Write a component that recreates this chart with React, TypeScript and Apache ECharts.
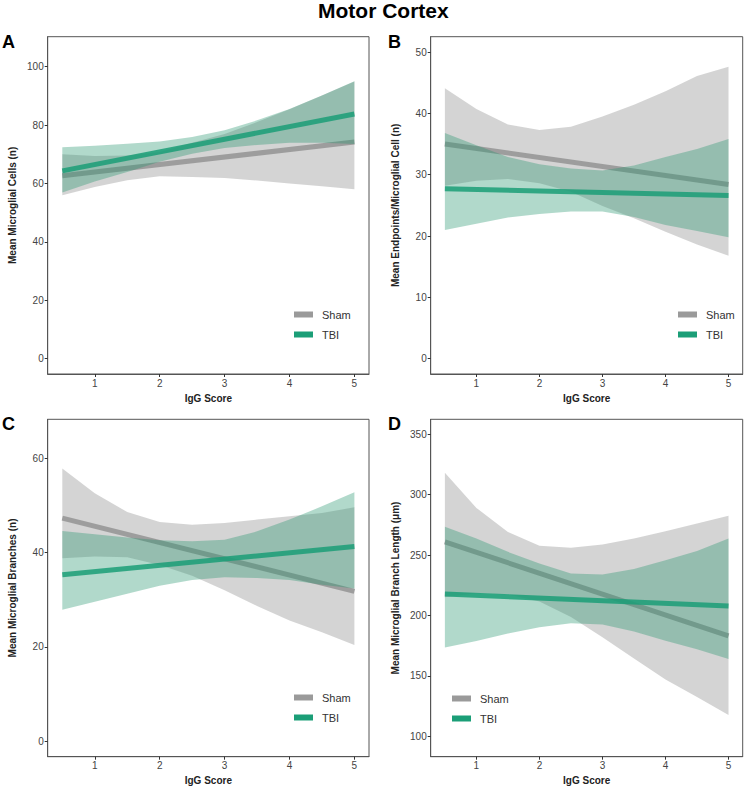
import React, { useEffect, useRef } from "react";
import * as echarts from "echarts";

// ---------- data ----------
const IGG_SCORE = [0.5, 1, 1.5, 2, 2.5, 3, 3.5, 4, 4.5, 5];
const LINE_X = [0.5, 5];
const X_TICKS = [1, 2, 3, 4, 5];
const GROUPS = ["Sham", "TBI"];
const X_TITLE = "IgG Score";
const MAIN_TITLE = "Motor Cortex";
const PANEL_LETTERS = ["A", "B", "C", "D"];
const Y_TITLES = [
  "Mean Microglial Cells (n)",
  "Mean Endpoints/Microglial Cell (n)",
  "Mean Microglial Branches (n)",
  "Mean Microglial Branch Length (μm)",
];

// Panel A: microglial cells
const A_Y_TICKS = [0, 20, 40, 60, 80, 100];
const A_SHAM_LINE = [62.6, 74.2];
const A_SHAM_LO = [56.0, 58.8, 61.1, 62.5, 62.2, 61.9, 61.0, 60.0, 59.0, 58.0];
const A_SHAM_HI = [70.0, 69.4, 69.6, 70.8, 73.9, 76.9, 81.0, 85.4, 90.1, 94.9];
const A_TBI_LINE = [64.3, 83.8];
const A_TBI_LO = [56.9, 60.7, 63.9, 67.4, 70.2, 72.1, 73.2, 73.9, 73.9, 73.5];
const A_TBI_HI = [72.4, 72.9, 73.6, 74.4, 75.9, 78.2, 81.6, 85.5, 90.1, 95.0];

// Panel B: endpoints / cell
const B_Y_TICKS = [0, 10, 20, 30, 40, 50];
const B_SHAM_LINE = [35.0, 28.4];
const B_SHAM_LO = [28.2, 29.0, 29.3, 28.6, 27.2, 24.9, 22.9, 20.7, 18.6, 16.8];
const B_SHAM_HI = [44.1, 40.7, 38.2, 37.3, 37.8, 39.5, 41.4, 43.6, 46.1, 47.6];
const B_TBI_LINE = [27.7, 26.6];
const B_TBI_LO = [21.0, 22.0, 23.0, 23.6, 24.0, 24.0, 23.1, 21.8, 20.8, 19.8];
const B_TBI_HI = [36.8, 34.8, 32.9, 31.7, 31.0, 30.7, 31.5, 32.9, 34.2, 35.8];

// Panel C: branches
const C_Y_TICKS = [0, 20, 40, 60];
const C_SHAM_LINE = [47.3, 31.8];
const C_SHAM_LO = [38.8, 39.2, 39.0, 37.4, 35.1, 32.0, 28.7, 25.6, 23.1, 20.4];
const C_SHAM_HI = [57.8, 52.6, 48.6, 46.5, 45.9, 46.3, 47.0, 47.7, 48.4, 49.6];
const C_TBI_LINE = [35.3, 41.3];
const C_TBI_LO = [27.9, 29.6, 31.3, 33.0, 34.2, 34.8, 34.6, 34.2, 33.2, 32.4];
const C_TBI_HI = [44.6, 43.9, 43.2, 42.6, 42.4, 42.7, 44.5, 47.0, 49.8, 52.8];

// Panel D: branch length
const D_Y_TICKS = [100, 150, 200, 250, 300, 350];
const D_SHAM_LINE = [261.0, 183.0];
const D_SHAM_LO = [215.0, 218.5, 217.3, 211.5, 198.8, 182.0, 164.3, 147.0, 132.5, 117.5];
const D_SHAM_HI = [318.3, 289.1, 269.2, 257.7, 256.0, 258.8, 263.7, 269.8, 276.1, 282.5];
const D_TBI_LINE = [217.7, 207.8];
const D_TBI_LO = [173.5, 178.8, 185.0, 190.2, 193.6, 192.5, 186.7, 179.1, 172.1, 163.9];
const D_TBI_HI = [273.4, 263.7, 252.7, 243.1, 234.8, 234.0, 238.4, 245.8, 253.3, 263.7];

// ---------- layout / style ----------
const FONT = "'Liberation Sans', Arial, Helvetica, sans-serif";
const SHAM_LINE_COLOR = "#9a9a9a";
const TBI_LINE_COLOR = "#1b9e77";
const SHAM_RIBBON = "rgba(160,160,160,0.45)";
const TBI_RIBBON = "rgba(40,150,110,0.36)";

const PANELS = [
  {
    grid: { left: 47.7, top: 36.7, width: 321.3, height: 337.3 },
    yMin: -5.25, yMax: 110.25, yTicks: A_Y_TICKS,
    sham: [A_SHAM_LINE, A_SHAM_LO, A_SHAM_HI], tbi: [A_TBI_LINE, A_TBI_LO, A_TBI_HI],
    legend: { left: 294, top: 309 }, letter: { x: 2, y: 33 },
  },
  {
    grid: { left: 430.7, top: 36.7, width: 312, height: 337.3 },
    yMin: -2.5, yMax: 52.5, yTicks: B_Y_TICKS,
    sham: [B_SHAM_LINE, B_SHAM_LO, B_SHAM_HI], tbi: [B_TBI_LINE, B_TBI_LO, B_TBI_HI],
    legend: { left: 678, top: 309 }, letter: { x: 388, y: 33 },
  },
  {
    grid: { left: 47.7, top: 419.3, width: 321.3, height: 337.4 },
    yMin: -3.25, yMax: 68.25, yTicks: C_Y_TICKS,
    sham: [C_SHAM_LINE, C_SHAM_LO, C_SHAM_HI], tbi: [C_TBI_LINE, C_TBI_LO, C_TBI_HI],
    legend: { left: 294, top: 692 }, letter: { x: 2, y: 415 },
  },
  {
    grid: { left: 430.7, top: 419.3, width: 312, height: 337.4 },
    yMin: 83, yMax: 362.5, yTicks: D_Y_TICKS,
    sham: [D_SHAM_LINE, D_SHAM_LO, D_SHAM_HI], tbi: [D_TBI_LINE, D_TBI_LO, D_TBI_HI],
    legend: { left: 452, top: 693 }, letter: { x: 388, y: 415 },
  },
];

function ribbon(idx: number, lo: number[], hi: number[], fill: string, z: number) {
  return {
    type: "custom",
    xAxisIndex: idx,
    yAxisIndex: idx,
    silent: true,
    z,
    data: IGG_SCORE.map((x, k) => [x, lo[k], hi[k]]),
    encode: { x: 0, y: [1, 2] },
    renderItem: (params: any, api: any) => {
      if (params.dataIndex !== 0) return null;
      const pts: number[][] = [];
      for (let k = 0; k < IGG_SCORE.length; k++) pts.push(api.coord([IGG_SCORE[k], hi[k]]));
      for (let k = IGG_SCORE.length - 1; k >= 0; k--) pts.push(api.coord([IGG_SCORE[k], lo[k]]));
      return { type: "polygon", shape: { points: pts }, style: { fill } };
    },
  };
}

function fitLine(idx: number, name: string, vals: number[], color: string, opacity: number, z: number) {
  return {
    type: "line",
    name,
    xAxisIndex: idx,
    yAxisIndex: idx,
    silent: true,
    z,
    symbol: "none",
    showSymbol: false,
    data: LINE_X.map((x, k) => [x, vals[k]]),
    lineStyle: { width: 5, color, opacity, cap: "butt" },
    itemStyle: { color },
  };
}

export default function App() {
  const ref = useRef<HTMLDivElement>(null);
  useEffect(() => {
    document.body.style.margin = "0";
    if (!ref.current) return;
    const chart = echarts.init(ref.current, null, { renderer: "svg" });

    const grids: any[] = [];
    const xAxes: any[] = [];
    const yAxes: any[] = [];
    const legends: any[] = [];
    const series: any[] = [];
    const graphics: any[] = [];

    PANELS.forEach((p, i) => {
      grids.push({ ...p.grid, show: true, borderColor: "#555", borderWidth: 1, backgroundColor: "transparent" });
      xAxes.push({
        type: "value",
        gridIndex: i,
        position: "bottom",
        min: 0.275,
        max: 5.225,
        name: X_TITLE,
        nameLocation: "middle",
        nameGap: 19,
        nameTextStyle: { fontFamily: FONT, fontSize: 10, fontWeight: "bold", color: "#222" },
        axisLine: { show: true, onZero: false, lineStyle: { color: "#555", width: 1 } },
        splitLine: { show: false },
        axisTick: { show: true, length: 3, lineStyle: { color: "#333" }, customValues: X_TICKS },
        axisLabel: { fontFamily: FONT, fontSize: 10, color: "#444", margin: 4, customValues: X_TICKS },
      });
      yAxes.push({
        type: "value",
        gridIndex: i,
        position: "left",
        min: p.yMin,
        max: p.yMax,
        name: Y_TITLES[i],
        nameLocation: "middle",
        nameGap: 30,
        nameRotate: 90,
        nameTextStyle: { fontFamily: FONT, fontSize: 10, fontWeight: "bold", color: "#222" },
        axisLine: { show: true, onZero: false, lineStyle: { color: "#555", width: 1 } },
        splitLine: { show: false },
        axisTick: { show: true, length: 3, lineStyle: { color: "#333" }, customValues: p.yTicks },
        axisLabel: { fontFamily: FONT, fontSize: 10, color: "#444", margin: 4, customValues: p.yTicks },
      });
      legends.push({
        data: GROUPS,
        orient: "vertical",
        left: p.legend.left,
        top: p.legend.top,
        icon: "rect",
        itemWidth: 19,
        itemHeight: 6,
        itemGap: 9,
        selectedMode: false,
        padding: 0,
        textStyle: { fontFamily: FONT, fontSize: 11, color: "#333", padding: [0, 0, 0, 4] },
      });
      const [sLine, sLo, sHi] = p.sham;
      const [tLine, tLo, tHi] = p.tbi;
      series.push(ribbon(i, sLo, sHi, SHAM_RIBBON, 1));
      series.push(fitLine(i, GROUPS[0], sLine, SHAM_LINE_COLOR, 0.95, 2));
      series.push(ribbon(i, tLo, tHi, TBI_RIBBON, 3));
      series.push(fitLine(i, GROUPS[1], tLine, TBI_LINE_COLOR, 0.85, 4));
      graphics.push({
        type: "text",
        x: p.letter.x,
        y: p.letter.y,
        style: { text: PANEL_LETTERS[i], fontFamily: FONT, fontSize: 18, fontWeight: "bold", fill: "#000" },
      });
    });

    chart.setOption({
      animation: false,
      backgroundColor: "#fff",
      textStyle: { fontFamily: FONT },
      title: {
        text: MAIN_TITLE,
        left: 318,
        top: 0,
        padding: 0,
        textStyle: { fontFamily: FONT, fontSize: 21, fontWeight: "bold", color: "#000" },
      },
      grid: grids,
      xAxis: xAxes,
      yAxis: yAxes,
      legend: legends,
      series,
      graphic: graphics,
    });
    return () => chart.dispose();
  }, []);
  return <div ref={ref} style={{ width: 754, height: 789 }} />;
}
